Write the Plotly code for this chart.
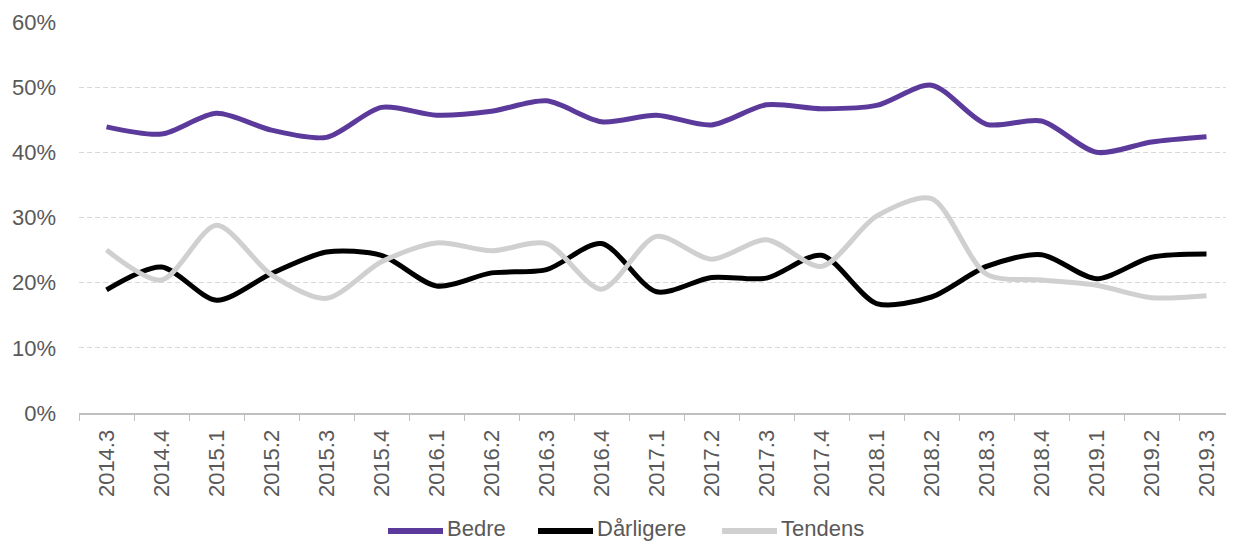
import plotly.graph_objects as go

categories = ["2014.3", "2014.4", "2015.1", "2015.2", "2015.3", "2015.4",
              "2016.1", "2016.2", "2016.3", "2016.4", "2017.1", "2017.2",
              "2017.3", "2017.4", "2018.1", "2018.2", "2018.3", "2018.4",
              "2019.1", "2019.2", "2019.3"]

bedre = [43.9, 42.8, 46.0, 43.4, 42.3, 46.9, 45.7, 46.3, 47.9, 44.7, 45.7,
         44.2, 47.3, 46.7, 47.2, 50.3, 44.3, 44.8, 40.0, 41.6, 42.4]
darligere = [18.9, 22.4, 17.3, 21.4, 24.7, 24.2, 19.5, 21.5, 22.0, 26.0, 18.6,
             20.8, 20.7, 24.2, 16.8, 17.8, 22.5, 24.3, 20.6, 23.9, 24.4]
tendens = [25.0, 20.4, 28.8, 21.2, 17.6, 23.2, 26.1, 24.9, 26.0, 19.0, 27.1,
           23.6, 26.6, 22.5, 30.2, 32.9, 21.3, 20.4, 19.6, 17.7, 18.0]

series_names = ["Bedre", "Dårligere", "Tendens"]
series_values = [bedre, darligere, tendens]
series_colors = ["#5B3A9B", "#000000", "#D0D0D0"]

fig = go.Figure()
for name, vals, color in zip(series_names, series_values, series_colors):
    fig.add_trace(go.Scatter(
        x=categories, y=[v / 100 for v in vals], name=name, mode="lines",
        line=dict(color=color, width=5, shape="spline", smoothing=0.8),
        showlegend=False,
    ))

# Legend drawn as line samples + text (screen-pixel layout converted to paper)
plot_left, plot_w = 79, 1155
plot_bottom, plot_h = 413, 391
legend_line_y = 531
legend_text_y = 528
legend_line_x = [388, 538, 722]
line_len = 55
px = lambda sx: (sx - plot_left) / plot_w
py = lambda sy: (plot_bottom - sy) / plot_h
for name, color, lx in zip(series_names, series_colors, legend_line_x):
    fig.add_shape(type="line", xref="paper", yref="paper",
                  x0=px(lx), x1=px(lx + line_len),
                  y0=py(legend_line_y), y1=py(legend_line_y),
                  line=dict(color=color, width=6))
    fig.add_annotation(xref="paper", yref="paper", x=px(lx + line_len + 3),
                       y=py(legend_text_y), xanchor="left", yanchor="middle",
                       text=name, showarrow=False, borderpad=0,
                       font=dict(size=22, color="#595959"))

font = "Liberation Sans, Arial, sans-serif"
fig.update_layout(
    width=1226, height=535,
    margin=dict(l=71, r=0, t=14, b=130, autoexpand=False),
    plot_bgcolor="white", paper_bgcolor="white",
    font=dict(family=font, size=22, color="#595959"),
    showlegend=False,
    xaxis=dict(type="category", range=[-0.5, 20.5], tickangle=-90,
               automargin=False,
               showline=True, linecolor="#BFBFBF", linewidth=2,
               ticks="outside", tickson="boundaries", ticklen=6,
               tickcolor="#BFBFBF", showgrid=False,
               tickfont=dict(size=22, color="#595959"),
               ticklabelstandoff=6),
    yaxis=dict(range=[0, 0.6], tickvals=[0, 0.1, 0.2, 0.3, 0.4, 0.5, 0.6],
               automargin=False,
               tickformat=".0%", showgrid=True, gridcolor="#D9D9D9",
               griddash="5px,3px", gridwidth=1, zeroline=False, showline=False,
               tickfont=dict(size=22, color="#595959"),
               ticklabelstandoff=22),
)

fig.write_html("out.html")
